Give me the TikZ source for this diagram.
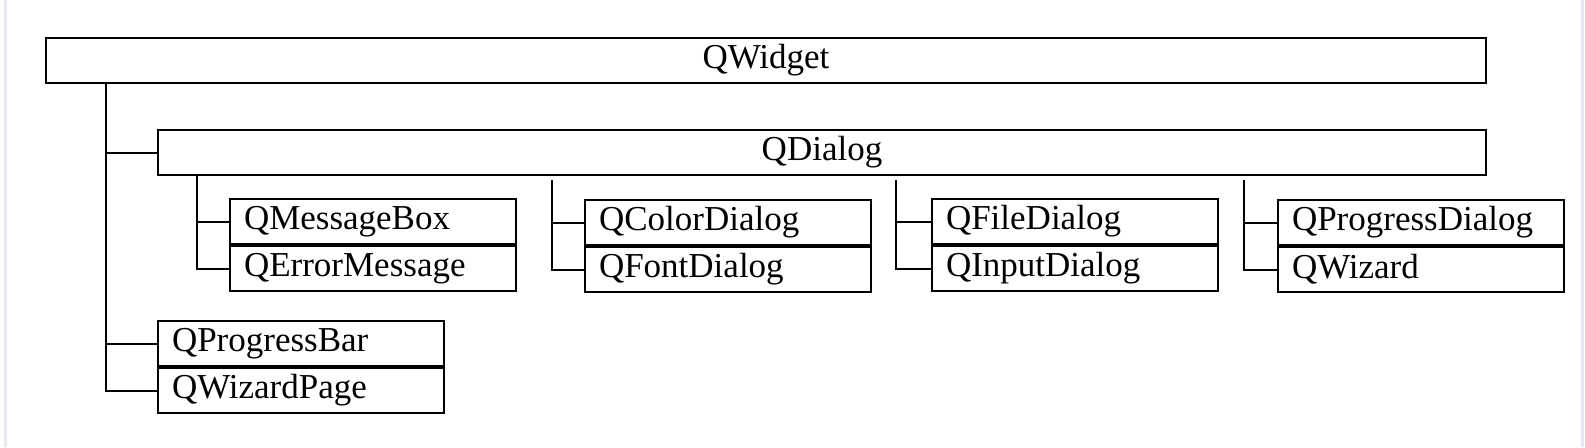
\documentclass[tikz,border=0pt]{standalone}
\usepackage{fontspec}
\setmainfont{Liberation Serif}
\usetikzlibrary{positioning}
\definecolor{framegray}{RGB}{232,232,240}

\begin{document}
\begin{tikzpicture}
		[x=0.5pt, y=-0.5pt, line width=1pt,
		bigbox/.style={draw=black, rectangle, anchor=north west, minimum height=22.5pt, inner sep=0pt, font=\fontsize{17.5}{21}\selectfont},
		cls/.style={draw=black, rectangle, anchor=north west, minimum height=22.5pt, text width=129pt, inner xsep=7pt, inner ysep=0pt, align=left, font=\fontsize{17.5}{21}\selectfont}]
		\useasboundingbox (0,0) rectangle (1585,447);
		\draw[framegray, line width=1.5pt] (5,0) -- (5,447);
		\draw[framegray, line width=1.5pt] (1582,0) -- (1582,447);

		\node[bigbox, minimum width=720pt] (widget) at (45,37) {QWidget};
		\node[bigbox, minimum width=664pt] (dialog) at (157,129) {QDialog};

		\node[cls] (msgbox) at (229,198) {QMessageBox};
		\node[cls, below=0pt of msgbox] (errmsg) {QErrorMessage};
		\node[cls] (colordlg) at (584,199) {QColorDialog};
		\node[cls, below=0pt of colordlg] (fontdlg) {QFontDialog};
		\node[cls] (filedlg) at (931,198) {QFileDialog};
		\node[cls, below=0pt of filedlg] (inputdlg) {QInputDialog};
		\node[cls] (progdlg) at (1277,199) {QProgressDialog};
		\node[cls, below=0pt of progdlg] (wizard) {QWizard};

		\node[cls] (progbar) at (157,320) {QProgressBar};
		\node[cls, below=0pt of progbar] (wizpage) {QWizardPage};

		\coordinate (trunk) at ([xshift=30.5pt]widget.south west);
		\coordinate (d1) at ([xshift=20pt]dialog.south west);
		\coordinate (d2) at (552,180);
		\coordinate (d3) at (896,180);
		\coordinate (d4) at (1244,180);

		\draw (trunk |- dialog.west) -- (dialog.west);
		\draw (trunk) |- (progbar.west);
		\draw (trunk) |- (wizpage.west);
		\draw (d1) |- (msgbox.west);
		\draw (d1) |- (errmsg.west);
		\draw (d2) |- (colordlg.west);
		\draw (d2) |- (fontdlg.west);
		\draw (d3) |- (filedlg.west);
		\draw (d3) |- (inputdlg.west);
		\draw (d4) |- (progdlg.west);
		\draw (d4) |- (wizard.west);
	\end{tikzpicture}
\end{document}
